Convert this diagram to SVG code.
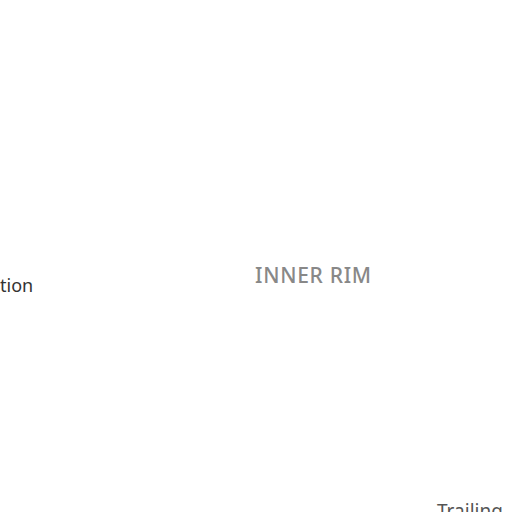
<svg xmlns="http://www.w3.org/2000/svg" width="512" height="512" viewBox="0 0 512 512">
<style>
text{font-family:"Noto Sans","Open Sans",sans-serif}
.a{font-size:18px;fill:#333}
.b{font-size:21px;fill:#888;font-weight:500;letter-spacing:0.7px}
.c{font-size:19px;fill:#555}
</style>
<rect width="512" height="512" fill="#fff"/>
<g id="n1"><text class="a" x="0" y="292">tion</text></g>
<g id="n2"><text class="b" x="255" y="283">INNER RIM</text></g>
<g id="n3"><text class="c" x="437" y="518">Trailing</text></g>
</svg>
